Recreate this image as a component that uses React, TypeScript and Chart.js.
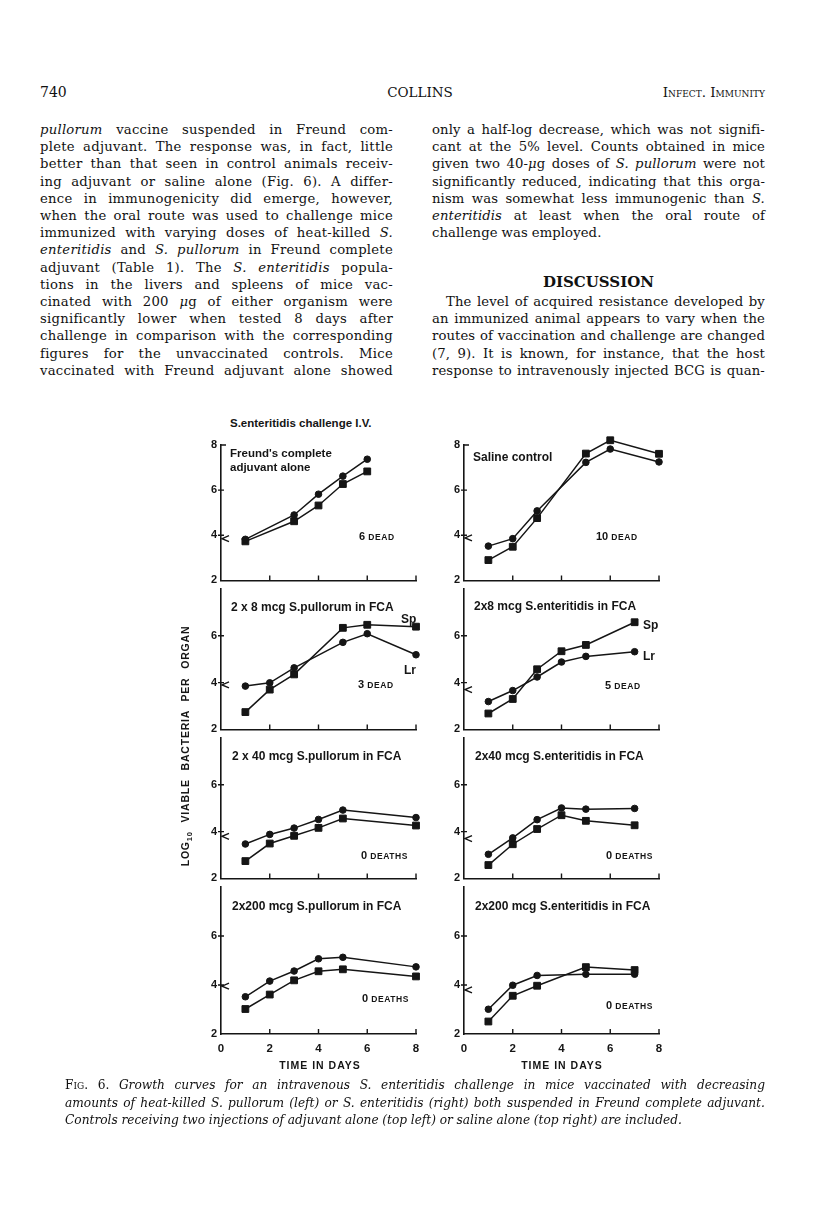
import React, { useEffect, useRef } from "react";
import { Chart, registerables } from "chart.js";
Chart.register(...registerables);

// ---------- data (log10 viable bacteria per organ vs time in days) ----------
const DAY_TICKS = [0, 2, 4, 6, 8];
const LOG_TICKS = [2, 4, 6, 8];

// Freund's complete adjuvant alone
const freundDays = [1, 3, 4, 5, 6];
const freundLiver = [3.82, 4.9, 5.82, 6.62, 7.37];
const freundSpleen = [3.73, 4.62, 5.32, 6.27, 6.83];

// Saline control
const salineDays = [1, 2, 3, 5, 6, 8];
const salineLiver = [3.52, 3.85, 5.08, 7.23, 7.82, 7.25];
const salineSpleen = [2.9, 3.49, 4.76, 7.62, 8.21, 7.61];

// 2 x 8 mcg S.pullorum in FCA
const pul8Days = [1, 2, 3, 5, 6, 8];
const pul8Liver = [3.85, 3.99, 4.63, 5.72, 6.09, 5.19];
const pul8Spleen = [2.74, 3.7, 4.35, 6.34, 6.47, 6.39];

// 2x8 mcg S.enteritidis in FCA
const ent8Days = [1, 2, 3, 4, 5, 7];
const ent8Liver = [3.19, 3.66, 4.24, 4.88, 5.12, 5.32];
const ent8Spleen = [2.68, 3.3, 4.57, 5.34, 5.61, 6.58];

// 2 x 40 mcg S.pullorum in FCA
const pul40Days = [1, 2, 3, 4, 5, 8];
const pul40Liver = [3.47, 3.88, 4.15, 4.52, 4.92, 4.6];
const pul40Spleen = [2.74, 3.49, 3.82, 4.16, 4.56, 4.26];

// 2x40 mcg S.enteritidis in FCA
const ent40Days = [1, 2, 3, 4, 5, 7];
const ent40Liver = [3.03, 3.73, 4.51, 5.01, 4.96, 4.99];
const ent40Spleen = [2.57, 3.46, 4.11, 4.7, 4.46, 4.27];

// 2x200 mcg S.pullorum in FCA
const pul200Days = [1, 2, 3, 4, 5, 8];
const pul200Liver = [3.52, 4.16, 4.57, 5.07, 5.13, 4.74];
const pul200Spleen = [3.02, 3.61, 4.19, 4.56, 4.64, 4.35];

// 2x200 mcg S.enteritidis in FCA
const ent200Days = [1, 2, 3, 5, 7];
const ent200Liver = [3.01, 3.99, 4.39, 4.44, 4.44];
const ent200Spleen = [2.51, 3.56, 3.97, 4.73, 4.61];

// inoculum marker (<) on each panel's axis
const inoculum = [3.85, 3.88, 3.9, 3.7, 3.8, 3.7, 3.95, 3.8];

// ---------- layout ----------
const INK = "#151515";
const FIG_FONT = '"Liberation Sans", Arial, sans-serif';
const SERIF = '"DejaVu Serif", serif';
const COL_LEFT = [221, 464];
const AREA_W = 195;
const ROW_TOP = [445, 589, 738, 887];
const ROW_BOT = [589, 738, 887, 1034];
const PAD_T = 14;
const Y_W = 34;
const PAD_R = 12;
const XH_BOTTOM = 26;
const XH = 2;

const PANELS = [
  { days: freundDays, liver: freundLiver, spleen: freundSpleen, col: 0, row: 0, inoc: inoculum[0] },
  { days: salineDays, liver: salineLiver, spleen: salineSpleen, col: 1, row: 0, inoc: inoculum[1] },
  { days: pul8Days, liver: pul8Liver, spleen: pul8Spleen, col: 0, row: 1, inoc: inoculum[2] },
  { days: ent8Days, liver: ent8Liver, spleen: ent8Spleen, col: 1, row: 1, inoc: inoculum[3] },
  { days: pul40Days, liver: pul40Liver, spleen: pul40Spleen, col: 0, row: 2, inoc: inoculum[4] },
  { days: ent40Days, liver: ent40Liver, spleen: ent40Spleen, col: 1, row: 2, inoc: inoculum[5] },
  { days: pul200Days, liver: pul200Liver, spleen: pul200Spleen, col: 0, row: 3, inoc: inoculum[6] },
  { days: ent200Days, liver: ent200Liver, spleen: ent200Spleen, col: 1, row: 3, inoc: inoculum[7] },
];

const marksPlugin = {
  id: "marks",
  afterDraw(chart: any, _args: any, opts: any) {
    const { ctx, chartArea: a } = chart;
    const xs = chart.scales.x;
    const ys = chart.scales.y;
    ctx.save();
    ctx.strokeStyle = INK;
    ctx.lineWidth = 1.4;
    ctx.beginPath();
    for (const d of DAY_TICKS) {
      if (d === 0) continue;
      const px = xs.getPixelForValue(d);
      ctx.moveTo(px, a.bottom);
      ctx.lineTo(px, a.bottom - 5);
    }
    for (const v of LOG_TICKS) {
      if (v === 2) continue;
      const py = ys.getPixelForValue(v);
      if (v === 8) {
        if (!opts.top) continue;
        ctx.moveTo(a.left, py);
        ctx.lineTo(a.left + 5, py);
        continue;
      }
      ctx.moveTo(a.left - 3, py);
      ctx.lineTo(a.left + 3, py);
    }
    const py = ys.getPixelForValue(opts.inoc);
    ctx.moveTo(a.left + 8, py - 3);
    ctx.lineTo(a.left + 1, py);
    ctx.lineTo(a.left + 8, py + 3);
    ctx.stroke();
    ctx.restore();
  },
};

function Panel({ p }: { p: any }) {
  const ref = useRef<HTMLCanvasElement>(null);
  const bottom = p.row === 3;
  const top = p.row === 0;
  const W = Y_W + AREA_W + PAD_R;
  const H = PAD_T + (ROW_BOT[p.row] - ROW_TOP[p.row]) + (bottom ? XH_BOTTOM : XH);
  useEffect(() => {
    const mk = (ys: number[], style: string, r: number) => ({
      data: p.days.map((d: number, i: number) => ({ x: d, y: ys[i] })),
      borderColor: INK,
      backgroundColor: INK,
      borderWidth: 1.5,
      pointStyle: style,
      pointRadius: r,
      pointBackgroundColor: INK,
      pointBorderColor: INK,
      pointBorderWidth: 1,
      tension: 0,
      clip: false as any,
    });
    const chart = new Chart(ref.current as HTMLCanvasElement, {
      type: "line",
      data: {
        datasets: [mk(p.liver, "circle", 3.3), mk(p.spleen, "rect", 4.8)],
      },
      options: {
        responsive: false,
        animation: false,
        events: [],
        layout: { padding: { top: PAD_T, right: PAD_R, left: 0, bottom: 0 } },
        plugins: {
          legend: { display: false },
          tooltip: { enabled: false },
          marks: { top, inoc: p.inoc },
        } as any,
        scales: {
          x: {
            type: "linear",
            min: 0,
            max: 8,
            grid: { display: false, drawTicks: false },
            border: { display: true, color: INK, width: 1.6 },
            ticks: {
              display: bottom,
              stepSize: 2,
              autoSkip: false,
              maxRotation: 0,
              padding: 8,
              color: INK,
              font: { family: FIG_FONT, size: 11.5, weight: "bold" },
            },
            afterFit: (s: any) => {
              s.height = bottom ? XH_BOTTOM : XH;
            },
          },
          y: {
            type: "linear",
            min: 2,
            max: 8,
            grid: { display: false, drawTicks: false },
            border: { display: true, color: INK, width: 1.6 },
            ticks: {
              stepSize: 2,
              padding: 4,
              color: INK,
              font: { family: FIG_FONT, size: 11, weight: "bold" },
              callback: (v: any) => (v === 8 && !top ? "" : String(v)),
            },
            afterFit: (s: any) => {
              s.width = Y_W;
            },
          },
        },
      },
      plugins: [marksPlugin as any],
    });
    return () => chart.destroy();
  }, []);
  return (
    <canvas
      ref={ref}
      width={W}
      height={H}
      style={{
        position: "absolute",
        left: COL_LEFT[p.col] - Y_W,
        top: ROW_TOP[p.row] - PAD_T,
        width: W,
        height: H,
      }}
    />
  );
}

// ---------- text helpers ----------
function Txt({ x, y, size = 11, children, center = false, style = {} }: any) {
  return (
    <div
      style={{
        position: "absolute",
        left: center ? x - 200 : x,
        width: center ? 400 : undefined,
        textAlign: center ? "center" : "left",
        top: y - size * 0.62,
        fontSize: size,
        lineHeight: `${size * 1.24}px`,
        fontFamily: FIG_FONT,
        fontWeight: "bold",
        color: INK,
        whiteSpace: "nowrap",
        ...style,
      }}
    >
      {children}
    </div>
  );
}

function Small({ children }: any) {
  return <span style={{ fontSize: 8.5, letterSpacing: 0.6 }}>{children}</span>;
}

function word(w: string, key: number, baseItalic = false) {
  const parts = w.split("*");
  return (
    <span key={key}>
      {parts.map((s, i) => {
        const it = i % 2 === 1 ? !baseItalic : baseItalic;
        return (
          <span key={i} style={{ fontStyle: it ? "italic" : "normal" }}>
            {s}
          </span>
        );
      })}
    </span>
  );
}

function JLine({ x, y, w, text, last = false, indent = 0, size = 13.2, italic = false, lead = null, ls = 0 }: any) {
  const words = text.split(" ");
  return (
    <div
      style={{
        position: "absolute",
        left: x + indent,
        top: y - 9,
        width: w - indent,
        height: 18,
        lineHeight: "18px",
        fontFamily: SERIF,
        fontSize: size,
        letterSpacing: ls,
        color: "#111",
        display: "flex",
        justifyContent: last ? "flex-start" : "space-between",
        gap: last ? "0.3em" : 0,
        whiteSpace: "nowrap",
      }}
    >
      {lead}
      {words.map((s: string, i: number) => word(s, i, italic))}
    </div>
  );
}

const leftLines = [
  "*pullorum* vaccine suspended in Freund com-",
  "plete adjuvant. The response was, in fact, little",
  "better than that seen in control animals receiv-",
  "ing adjuvant or saline alone (Fig. 6). A differ-",
  "ence in immunogenicity did emerge, however,",
  "when the oral route was used to challenge mice",
  "immunized with varying doses of heat-killed *S.*",
  "*enteritidis* and *S.* *pullorum* in Freund complete",
  "adjuvant (Table 1). The *S.* *enteritidis* popula-",
  "tions in the livers and spleens of mice vac-",
  "cinated with 200 *μ*g of either organism were",
  "significantly lower when tested 8 days after",
  "challenge in comparison with the corresponding",
  "figures for the unvaccinated controls. Mice",
  "vaccinated with Freund adjuvant alone showed",
];
const rightLinesA = [
  "only a half-log decrease, which was not signifi-",
  "cant at the 5% level. Counts obtained in mice",
  "given two 40-*μ*g doses of *S.* *pullorum* were not",
  "significantly reduced, indicating that this orga-",
  "nism was somewhat less immunogenic than *S.*",
  "*enteritidis* at least when the oral route of",
  "challenge was employed.",
];
const rightLinesB = [
  "The level of acquired resistance developed by",
  "an immunized animal appears to vary when the",
  "routes of vaccination and challenge are changed",
  "(7, 9). It is known, for instance, that the host",
  "response to intravenously injected BCG is quan-",
];

const LINE0 = 130;
const LSTEP = 17.2;

export default function App() {
  return (
    <div
      style={{
        position: "absolute",
        left: 0,
        top: 0,
        width: 816,
        height: 1230,
        background: "#fff",
        overflow: "hidden",
      }}
    >
      {/* running head */}
      <div style={{ position: "absolute", left: 40, top: 84, fontFamily: SERIF, fontSize: 14, color: "#111" }}>740</div>
      <div style={{ position: "absolute", left: 320, width: 200, textAlign: "center", top: 84, fontFamily: SERIF, fontSize: 13.5, color: "#111" }}>COLLINS</div>
      <div style={{ position: "absolute", right: 816 - 765, top: 84, fontFamily: SERIF, fontSize: 13.5, fontVariant: "small-caps", color: "#111" }}>Infect. Immunity</div>

      {leftLines.map((t, i) => (
        <JLine key={"l" + i} x={40} y={LINE0 + i * LSTEP} w={353} text={t} ls={0.25} />
      ))}
      {rightLinesA.map((t, i) => (
        <JLine key={"ra" + i} x={432} y={LINE0 + i * LSTEP} w={333} text={t} ls={0.1} last={i === rightLinesA.length - 1} />
      ))}
      <div
        style={{
          position: "absolute",
          left: 432,
          width: 333,
          textAlign: "center",
          top: LINE0 + 8.85 * LSTEP - 9,
          lineHeight: "18px",
          fontFamily: SERIF,
          fontWeight: "bold",
          fontSize: 15,
          color: "#111",
        }}
      >
        DISCUSSION
      </div>
      {rightLinesB.map((t, i) => (
        <JLine key={"rb" + i} x={432} y={LINE0 + (10 + i) * LSTEP} w={333} text={t} ls={0.1} indent={i === 0 ? 14 : 0} />
      ))}

      {/* figure */}
      {PANELS.map((p, i) => (
        <Panel key={i} p={p} />
      ))}

      <Txt x={230} y={423} size={11.5}>S.enteritidis challenge I.V.</Txt>

      <Txt x={230} y={453} size={11.5}>Freund's complete</Txt>
      <Txt x={230} y={467} size={11.5}>adjuvant alone</Txt>
      <Txt x={359} y={537} size={11}>6 <Small>DEAD</Small></Txt>

      <Txt x={473} y={457} size={12}>Saline control</Txt>
      <Txt x={596} y={537} size={11}>10 <Small>DEAD</Small></Txt>

      <Txt x={231} y={607} size={12}>2 x 8 mcg S.pullorum in FCA</Txt>
      <Txt x={401} y={619} size={12}>Sp</Txt>
      <Txt x={404} y={670} size={12}>Lr</Txt>
      <Txt x={358} y={685} size={11}>3 <Small>DEAD</Small></Txt>

      <Txt x={474} y={606} size={12}>2x8 mcg S.enteritidis in FCA</Txt>
      <Txt x={643} y={625} size={12}>Sp</Txt>
      <Txt x={643} y={656} size={12}>Lr</Txt>
      <Txt x={605} y={686} size={11}>5 <Small>DEAD</Small></Txt>

      <Txt x={232} y={756} size={12}>2 x 40 mcg S.pullorum in FCA</Txt>
      <Txt x={361} y={856} size={11}>0 <Small>DEATHS</Small></Txt>

      <Txt x={475} y={756} size={12}>2x40 mcg S.enteritidis in FCA</Txt>
      <Txt x={606} y={856} size={11}>0 <Small>DEATHS</Small></Txt>

      <Txt x={232} y={906} size={12}>2x200 mcg S.pullorum in FCA</Txt>
      <Txt x={362} y={999} size={11}>0 <Small>DEATHS</Small></Txt>

      <Txt x={475} y={906} size={12}>2x200 mcg S.enteritidis in FCA</Txt>
      <Txt x={606} y={1006} size={11}>0 <Small>DEATHS</Small></Txt>

      <Txt x={320} y={1066} size={10.5} center style={{ letterSpacing: 1 }}>TIME IN DAYS</Txt>
      <Txt x={562} y={1066} size={10.5} center style={{ letterSpacing: 1 }}>TIME IN DAYS</Txt>

      {/* rotated y-axis title */}
      <div
        style={{
          position: "absolute",
          left: 185 - 150,
          top: 746 - 8,
          width: 300,
          height: 16,
          lineHeight: "16px",
          textAlign: "center",
          transform: "rotate(-90deg)",
          fontFamily: FIG_FONT,
          fontWeight: "bold",
          fontSize: 10.5,
          letterSpacing: 0.8,
          wordSpacing: 5,
          color: INK,
          whiteSpace: "nowrap",
        }}
      >
        LOG<sub style={{ fontSize: 7.5 }}>10</sub> VIABLE BACTERIA PER ORGAN
      </div>

      {/* caption */}
      <JLine
        x={65}
        y={1085}
        w={700}
        size={12.2}
        italic
        lead={
          <span style={{ fontStyle: "normal", fontVariant: "small-caps" }}>Fig.</span>
        }
        text="*6.* Growth curves for an intravenous S. enteritidis challenge in mice vaccinated with decreasing"
      />
      <JLine
        x={65}
        y={1103}
        w={700}
        size={12.2}
        italic
        text="amounts of heat-killed S. pullorum (left) or S. enteritidis (right) both suspended in Freund complete adjuvant."
      />
      <JLine
        x={65}
        y={1120}
        w={700}
        size={12.2}
        italic
        last
        text="Controls receiving two injections of adjuvant alone (top left) or saline alone (top right) are included."
      />
    </div>
  );
}
